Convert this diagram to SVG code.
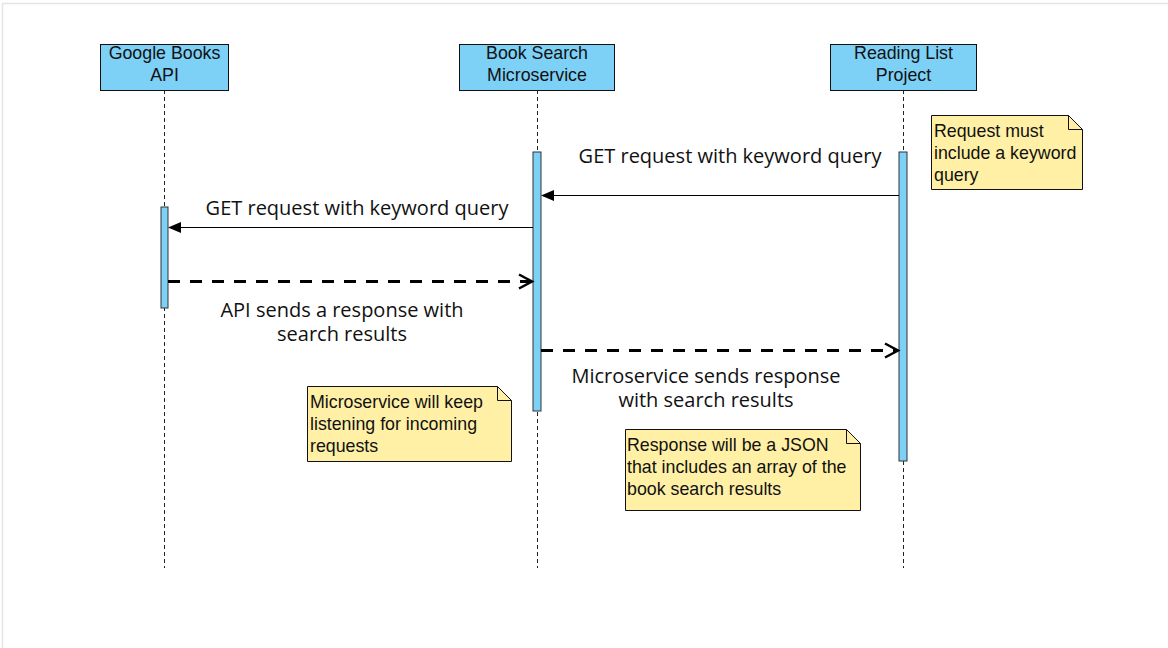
<svg xmlns="http://www.w3.org/2000/svg" width="1168" height="648" viewBox="0 0 1168 648">
<style>
.hdr{fill:#7dd0f6;stroke:#111;stroke-width:1}
.act{fill:#7dd0f6;stroke:#333;stroke-width:1}
.life{stroke:#222;stroke-width:1;stroke-dasharray:4 3;fill:none}
.note{fill:#fff0a5;stroke:#111;stroke-width:1}
.t{font-family:"Liberation Sans",Arial,sans-serif;font-size:17.8px;fill:#111}
.m{font-family:"Open Sans","Noto Sans",sans-serif;font-size:20px;fill:#111}
.solid{stroke:#000;stroke-width:1;fill:none}
.dash{stroke:#000;stroke-width:3;stroke-dasharray:12 10;fill:none}
</style>
<defs>
<marker id="fill" markerWidth="13" markerHeight="12" refX="12" refY="6" orient="auto" markerUnits="userSpaceOnUse">
<path d="M0,0.5 L13,6 L0,11.5 Z" fill="#000"/>
</marker>
<marker id="open" markerWidth="18" markerHeight="18" refX="15" refY="9" orient="auto" markerUnits="userSpaceOnUse">
<path d="M2,2 L15,9 L2,16" fill="none" stroke="#000" stroke-width="2.5"/>
</marker>
</defs>
<rect x="0" y="0" width="1168" height="648" fill="#fff"/>
<path d="M2.5,648 V3.5 H1168" fill="none" stroke="#e3e6e8" stroke-width="1.5"/>

<g id="google">
<line class="life" x1="164.5" y1="90" x2="164.5" y2="568"/>
<rect class="hdr" x="100.5" y="44.5" width="128" height="46"/>
<text class="t" text-anchor="middle"><tspan x="164.5" y="59">Google Books</tspan><tspan x="164.5" y="81">API</tspan></text>
<rect class="act" x="161" y="207" width="7" height="101"/>
</g>
<g id="microservice">
<line class="life" x1="537.5" y1="90" x2="537.5" y2="568"/>
<rect class="hdr" x="459.5" y="44.5" width="155" height="46"/>
<text class="t" text-anchor="middle"><tspan x="537" y="59">Book Search</tspan><tspan x="537" y="81">Microservice</tspan></text>
<rect class="act" x="533" y="152" width="8" height="259"/>
</g>
<g id="reading">
<line class="life" x1="903.5" y1="90" x2="903.5" y2="568"/>
<rect class="hdr" x="830.5" y="44.5" width="146" height="46"/>
<text class="t" text-anchor="middle"><tspan x="903.5" y="59">Reading List</tspan><tspan x="903.5" y="81">Project</tspan></text>
<rect class="act" x="899" y="152" width="8" height="309"/>
</g>

<g id="connectors">
<line class="solid" x1="899" y1="195.5" x2="542" y2="195.5" marker-end="url(#fill)"/>
<text class="m" x="730" y="163" text-anchor="middle">GET request with keyword query</text>
<line class="solid" x1="533" y1="227.5" x2="169" y2="227.5" marker-end="url(#fill)"/>
<text class="m" x="357" y="215" text-anchor="middle">GET request with keyword query</text>
<line class="dash" x1="168" y1="281.5" x2="532" y2="281.5" marker-end="url(#open)"/>
<text class="m" text-anchor="middle"><tspan x="342" y="317">API sends a response with</tspan><tspan x="342" y="341">search results</tspan></text>
<line class="dash" x1="541" y1="350.5" x2="898" y2="350.5" marker-end="url(#open)"/>
<text class="m" text-anchor="middle"><tspan x="706" y="383">Microservice sends response</tspan><tspan x="706" y="407">with search results</tspan></text>
</g>

<g id="note1">
<path class="note" d="M931.5,115.5 H1068.5 L1082.5,129.5 V189.5 H931.5 Z"/>
<path d="M1068.5,115.5 V129.5 H1082.5" fill="none" stroke="#111" stroke-width="1"/>
<text class="t"><tspan x="934" y="137">Request must</tspan><tspan x="934" y="159">include a keyword</tspan><tspan x="934" y="181">query</tspan></text>
</g>
<g id="note2">
<path class="note" d="M307.5,386.5 H497.5 L511.5,400.5 V461.5 H307.5 Z"/>
<path d="M497.5,386.5 V400.5 H511.5" fill="none" stroke="#111" stroke-width="1"/>
<text class="t"><tspan x="310" y="408">Microservice will keep</tspan><tspan x="310" y="430">listening for incoming</tspan><tspan x="310" y="452">requests</tspan></text>
</g>
<g id="note3">
<path class="note" d="M625.5,429.5 H846.5 L860.5,443.5 V510.5 H625.5 Z"/>
<path d="M846.5,429.5 V443.5 H860.5" fill="none" stroke="#111" stroke-width="1"/>
<text class="t"><tspan x="627" y="451">Response will be a JSON</tspan><tspan x="627" y="473">that includes an array of the</tspan><tspan x="627" y="495">book search results</tspan></text>
</g>
</svg>
